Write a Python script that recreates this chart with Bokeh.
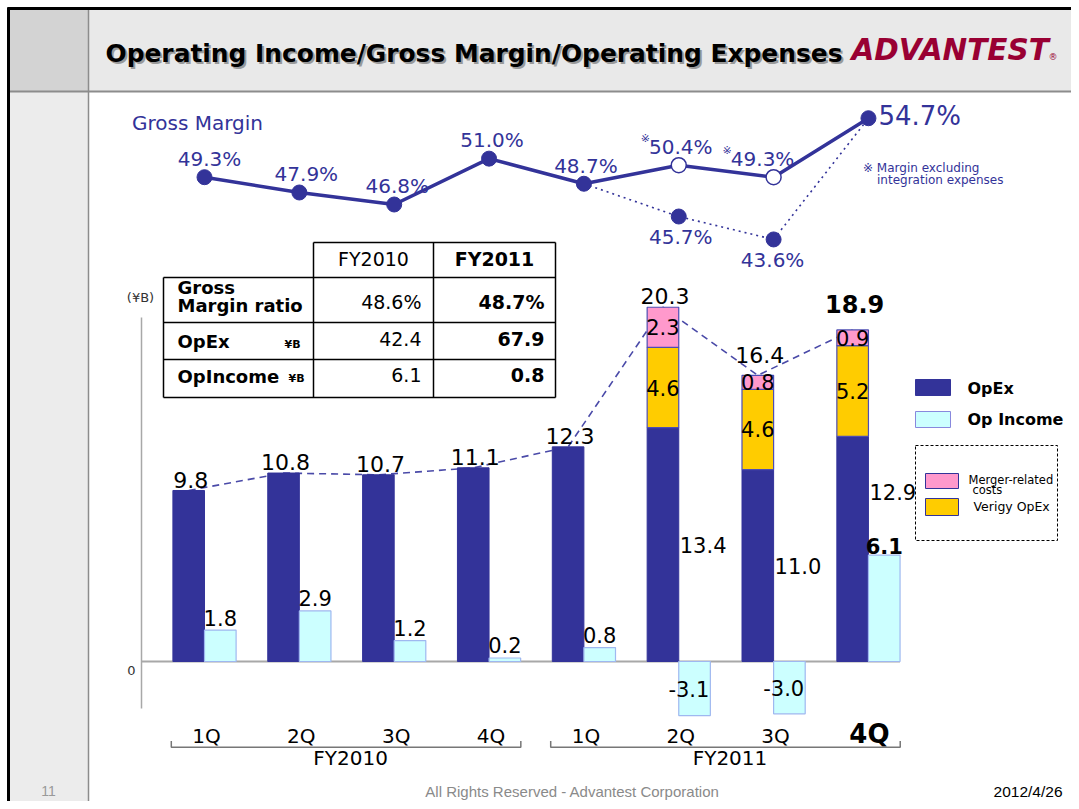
import numpy as np
from bokeh.plotting import figure
from bokeh.models import Range1d
from bokeh.core.properties import value
from bokeh.embed import file_html
from bokeh.resources import INLINE

# ---------------- data ----------------
quarters = ["1Q", "2Q", "3Q", "4Q", "1Q", "2Q", "3Q", "4Q"]
fiscal_years = ["FY2010", "FY2011"]
quarters_per_year = 4
opex_total = [9.8, 10.8, 10.7, 11.1, 12.3, 20.3, 16.4, 18.9]
opex_base = [9.8, 10.8, 10.7, 11.1, 12.3, 13.4, 11.0, 12.9]
verigy_opex = [0, 0, 0, 0, 0, 4.6, 4.6, 5.2]
merger_costs = [0, 0, 0, 0, 0, 2.3, 0.8, 0.9]
op_income = [1.8, 2.9, 1.2, 0.2, 0.8, -3.1, -3.0, 6.1]
gross_margin = [49.3, 47.9, 46.8, 51.0, 48.7, 50.4, 49.3, 54.7]
gm_excl_integration = [False, False, False, False, False, True, True, False]
gm_incl_idx = [4, 5, 6, 7]
gm_incl_integration = [48.7, 45.7, 43.6, 54.7]
table_columns = ["FY2010", "FY2011"]
table_rows = ["Gross\nMargin ratio", "OpEx", "OpIncome"]
table_fy2010 = ["48.6%", "42.4", "6.1"]
table_fy2011 = ["48.7%", "67.9", "0.8"]

title = "Operating Income/Gross Margin/Operating Expenses"

# ---------------- layout ----------------
FIG_W, FIG_H, OFF = 1071, 801, 0
X_C0, X_STEP = 204.0, 94.85          # px of first group centre, group spacing
ZERO_Y, PX_B = 661.0, 17.45          # px of zero, px per \u00a5B
GM_Y0, GM_V0, PX_PCT = 176.7, 49.3, 10.92
FONT = value("DejaVu Sans")
NAVY = "#333399"
CAP = 0.36   # cap-centre height above baseline, in em

def bx(px):
    return (px - X_C0) / X_STEP

def by(px):
    return (ZERO_Y - px) / PX_B

p = figure(width=FIG_W, height=FIG_H, output_backend="svg", toolbar_location=None,
           x_axis_location=None, y_axis_location=None, min_border=0,
           x_range=Range1d(bx(OFF), bx(OFF + FIG_W)),
           y_range=Range1d(by(OFF + FIG_H), by(OFF)))
p.outline_line_color = None
p.xgrid.grid_line_color = None
p.ygrid.grid_line_color = None
p.extra_x_ranges = {"px": Range1d(OFF, OFF + FIG_W)}
p.extra_y_ranges = {"px": Range1d(OFF + FIG_H, OFF),
                    "gm": Range1d(GM_V0 - (OFF + FIG_H - GM_Y0) / PX_PCT,
                                  GM_V0 + (GM_Y0 - OFF) / PX_PCT)}

PX = dict(x_range_name="px", y_range_name="px")
UNIT = {"px": -1.0, "default": PX_B, "gm": PX_PCT}

def T(x, y, s, size, color="black", align="left", baseline="alphabetic",
      style="normal", font=FONT, xr="px", yr="px"):
    y = list(y)
    if baseline == "alphabetic":
        y = [v + CAP * size / UNIT[yr] for v in y]
    p.text(x=list(x), y=y, text=list(s), x_range_name=xr, y_range_name=yr,
           text_font=font, text_font_size=f"{size}px", text_color=color,
           text_align=align, text_baseline="middle", text_font_style=style)

# ---------------- slide frame ----------------
p.quad(left=9, right=1071, top=9, bottom=91, fill_color="#e9e9e9", line_color=None, **PX)
p.quad(left=9, right=88, top=9, bottom=91, fill_color="#d3d3d3", line_color=None, **PX)
p.quad(left=9, right=88, top=91, bottom=801, fill_color="#ececec", line_color=None, **PX)
p.segment(x0=[88], y0=[9], x1=[88], y1=[801], line_color="#8c8c8c", line_width=1.5, **PX)
p.segment(x0=[9], y0=[91], x1=[1071], y1=[91], line_color="#8c8c8c", line_width=2, **PX)
p.segment(x0=[7, 8], y0=[8, 7], x1=[1071, 8], y1=[8, 801], line_color="black", line_width=3, **PX)

T([107], [63.5], [title], 24.9, color="#9a9a9a", style="bold")
T([105], [62], [title], 24.9, color="black", style="bold")
T([851], [60], ["ADVANTEST"], 29.5, color="#990033", style="bold italic")
T([1048], [60], ["\u00ae"], 9, color="#990033")

# footer
T([48], [796], ["11"], 14, color="#999999", align="center", font=value("Liberation Sans"))
T([572], [796], ["All Rights Reserved - Advantest Corporation"], 15, color="#8a8a8a",
  align="center", font=value("Liberation Sans"))
T([1062], [797], ["2012/4/26"], 15.5, color="black", align="right", font=value("Liberation Sans"))

# ---------------- bar chart ----------------
n = len(quarters)
idx = np.arange(n)
BAR_W = 31.6 / X_STEP
x_opex = idx - BAR_W / 2
x_inc = idx + BAR_W / 2
base = np.array(opex_base)
verigy = np.array(verigy_opex)
merger = np.array(merger_costs)
income = np.array(op_income)
stack_mid = base + verigy
stack_top = stack_mid + merger

# y axis & zero line
ax_x = bx(141)
p.segment(x0=[ax_x], y0=[by(317)], x1=[ax_x], y1=[by(708)], line_color="#a8a8a8", line_width=1.5)
p.segment(x0=[ax_x], y0=[0], x1=[n - 1 + BAR_W], y1=[0], line_color="#a8a8a8", line_width=2)
T([bx(131)], [by(675)], ["0"], 13, color="#333333", align="center", xr="default", yr="default")
T([140], [301.5], ["(\u00a5B)"], 13, color="#333333", align="center")

# dashed total line (behind bars)
p.line(x_opex, stack_top, line_color="#4a4aa8", line_width=1.6, line_dash="7 5")

p.vbar(x=x_opex, width=BAR_W, bottom=0, top=base, fill_color=NAVY, line_color=NAVY)
m = verigy > 0
p.vbar(x=x_opex[m], width=BAR_W, bottom=base[m], top=stack_mid[m],
       fill_color="#ffcc00", line_color="#4d4db3", line_width=1.2)
mm = merger > 0
p.vbar(x=x_opex[mm], width=BAR_W, bottom=stack_mid[mm], top=stack_top[mm],
       fill_color="#ff99cc", line_color="#4d4db3", line_width=1.2)
p.vbar(x=x_inc, width=BAR_W, bottom=0, top=income, fill_color="#ccffff",
       line_color="#9fb8f0", line_width=1.2)

# segment labels
T(x_opex[m], (base[m] + stack_mid[m]) / 2, [f"{v:.1f}" for v in verigy[m]], 21,
  align="center", baseline="middle", xr="default", yr="default")
T(x_opex[mm], (stack_mid[mm] + stack_top[mm]) / 2, [f"{v:.1f}" for v in merger[mm]], 21,
  align="center", baseline="middle", xr="default", yr="default")
base_lab_y = [b / 2 if b / 2 > inc + 2 else inc + 3.6 for b, inc in zip(base[m], income[m])]
T(idx[m] + 1 / X_STEP, base_lab_y, [f"{v:.1f}" for v in base[m]], 21,
  align="left", baseline="middle", xr="default", yr="default")

# total labels
cur = n - 1
for i in range(n):
    if i == cur:
        gap, size, style = 17, 24, "bold"
    elif 0 < merger[i] < 1.5:
        gap, size, style = 12, 22, "normal"
    else:
        gap, size, style = 3, 22, "normal"
    T([x_opex[i] + 2 / X_STEP], [stack_top[i] + gap / PX_B], [f"{opex_total[i]:.1f}"], size,
      align="center", style=style, xr="default", yr="default")

# income labels
for i in range(n):
    v = income[i]
    if v < 0:
        T([x_inc[i] + BAR_W / 2 - 1 / X_STEP], [v / 2], [f"{v:.1f}"], 21, align="right",
          baseline="middle", xr="default", yr="default")
    elif i == cur:
        T([x_inc[i]], [v + 1.5 / PX_B], [f"{v:.1f}"], 21, align="center", style="bold",
          xr="default", yr="default")
    else:
        T([x_inc[i]], [v + 5 / PX_B], [f"{v:.1f}"], 21, align="center", xr="default", yr="default")

# category axis labels & brackets
for i in range(n):
    if i == cur:
        T([idx[i] + 1 / X_STEP], [743], [quarters[i]], 26, align="center", style="bold",
          xr="default", yr="px")
    else:
        T([idx[i] + 2 / X_STEP], [743], [quarters[i]], 20, align="center", xr="default", yr="px")
for k, fy in enumerate(fiscal_years):
    first, last = k * quarters_per_year, (k + 1) * quarters_per_year - 1
    x0, x1 = first - 0.35, last + 0.335
    p.multi_line(xs=[[x0, x0, x1, x1]], ys=[[740.5, 746.7, 746.7, 740.5]], line_color="#777777",
                 line_width=1.5, y_range_name="px")
    T([(first + last) / 2 + 0.04], [765], [fy], 20, align="center", xr="default", yr="px")

# ---------------- gross margin line ----------------
GM = dict(y_range_name="gm")
p.line(gm_incl_idx, gm_incl_integration, line_color=NAVY, line_width=1.6, line_dash="2 4", **GM)
p.line(idx, gross_margin, line_color=NAVY, line_width=3.5, **GM)
gm = np.array(gross_margin)
excl = np.array(gm_excl_integration)
p.scatter(idx[~excl], gm[~excl], size=15, fill_color=NAVY, line_color=NAVY, **GM)
p.scatter(idx[excl], gm[excl], size=15, fill_color="white", line_color=NAVY, line_width=1.5, **GM)
p.scatter(gm_incl_idx[1:3], gm_incl_integration[1:3], size=15, fill_color=NAVY, line_color=NAVY, **GM)

gm_label_dx = [5, 7, 3, 3, 2, 2, -11]
for i in range(n - 1):
    lab = f"{gross_margin[i]:.1f}%"
    xc = idx[i] + gm_label_dx[i] / X_STEP
    T([xc], [gross_margin[i] + 11 / PX_PCT], [lab], 20, color=NAVY, align="center",
      xr="default", yr="gm")
    if excl[i]:
        half = 3.176 * 20 / 2
        T([xc - (half - 1) / X_STEP], [gross_margin[i] + 23 / PX_PCT], ["\u203b"], 11,
          color=NAVY, align="right", xr="default", yr="gm")
T([idx[cur] + 10 / X_STEP], [gross_margin[cur] - 7 / PX_PCT], [f"{gross_margin[cur]:.1f}%"], 26,
  color=NAVY, align="left", xr="default", yr="gm")
for j, dx in zip([1, 2], [2, -1]):
    T([gm_incl_idx[j] + dx / X_STEP], [gm_incl_integration[j] - 28 / PX_PCT],
      [f"{gm_incl_integration[j]:.1f}%"], 20, color=NAVY, align="center", xr="default", yr="gm")

T([131.5], [129.5], ["Gross Margin"], 20, color=NAVY)
T([862.5], [171.5], ["\u203b Margin excluding"], 12, color=NAVY)
T([876.5], [184], ["integration expenses"], 12, color=NAVY)

# ---------------- summary table ----------------
hl = [(313, 555, 242), (163, 555, 277), (163, 555, 322), (163, 555, 359), (163, 555, 397)]
vl = [(163, 277, 397), (313, 242, 397), (433, 242, 397), (555, 242, 397)]
p.segment(x0=[a for a, b, y in hl], x1=[b for a, b, y in hl], y0=[y for a, b, y in hl],
          y1=[y for a, b, y in hl], line_color="black", line_width=1.5, **PX)
p.segment(x0=[x for x, a, b in vl], x1=[x for x, a, b in vl], y0=[a for x, a, b in vl],
          y1=[b for x, a, b in vl], line_color="black", line_width=1.5, **PX)
T([373], [265], [table_columns[0]], 19, align="center")
T([494], [265], [table_columns[1]], 19, align="center", style="bold")
row_base = [308, 345, 381.5]
label_lines = table_rows[0].split("\n")
T([177, 177], [293, 311.5], label_lines, 18, style="bold")
T([177], [347.5], [table_rows[1]], 18, style="bold")
T([177], [382], [table_rows[2]], 18, style="bold")
T([284, 288], [348, 382], ["\u00a5B", "\u00a5B"], 11, style="bold")
T([421] * 3, row_base, table_fy2010, 19, align="right")
T([544] * 3, row_base, table_fy2011, 19, align="right", style="bold")

# ---------------- legend ----------------
p.quad(left=915, right=950, top=379, bottom=395, fill_color=NAVY, line_color=NAVY, **PX)
p.quad(left=915, right=950, top=411, bottom=427, fill_color="#ccffff", line_color="#8888dd", **PX)
T([967], [394], ["OpEx"], 16, style="bold")
T([967], [425], ["Op Income"], 16, style="bold")
p.quad(left=915, right=1057, top=445, bottom=540, fill_color=None, line_color="black",
       line_dash="3 2", line_width=1, **PX)
p.quad(left=925, right=958, top=473, bottom=488, fill_color="#ff99cc", line_color=NAVY, **PX)
p.quad(left=925, right=958, top=498, bottom=515, fill_color="#ffcc00", line_color=NAVY, **PX)
T([968], [484], ["Merger-related"], 11.5)
T([972], [493.5], ["costs"], 11.5)
T([973], [510.5], ["Verigy OpEx"], 12.5)

open("out.html", "w").write(file_html(p, INLINE))
